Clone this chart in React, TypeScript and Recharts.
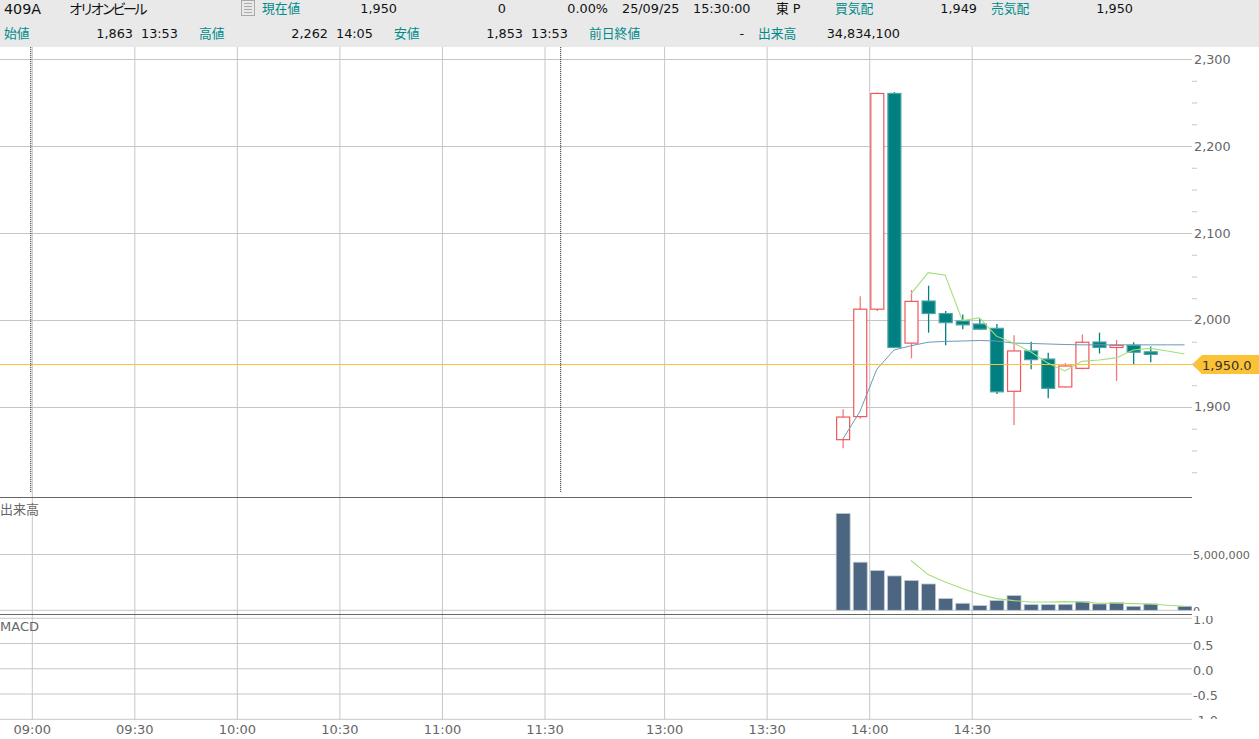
import React from 'react';
import { ComposedChart, Bar, Line, XAxis, YAxis, CartesianGrid, ReferenceLine } from 'recharts';

// ---- header values
const code = '409A';
const companyName = 'オリオンビール';
const currentValue = '1,950';
const change = '0';
const changePct = '0.00%';
const quoteDate = '25/09/25';
const quoteTime = '15:30:00';
const market = '東 P';
const bid = '1,949';
const ask = '1,950';
const openValue = '1,863';
const openTime = '13:53';
const highValue = '2,262';
const highTime = '14:05';
const lowValue = '1,853';
const lowTime = '13:53';
const prevClose = '-';
const totalVolume = '34,834,100';

// ---- time axis (one slot = 5 minutes of trading)
const timeTicks = [0, 6, 12, 18, 24, 30, 37, 43, 49, 55];
const timeLabels = ['09:00', '09:30', '10:00', '10:30', '11:00', '11:30', '13:00', '13:30', '14:00', '14:30'];
const sessionMarks = [-0.09, 30.92];

// ---- series
const slots = [47.42, 48.42, 49.42, 50.42, 51.42, 52.42, 53.42, 54.42, 55.42, 56.42, 57.42, 58.42, 59.42, 60.42, 61.42, 62.42, 63.42, 64.42, 65.42, 66.42, 67.42];
const opens = [1863, 1889.5, 2013, 2261, 1974, 2022.4, 2008, 1999.4, 1996, 1991, 1918.6, 1965, 1955.7, 1923.6, 1945, 1975.3, 1969, 1971.5, 1964, null, null];
const closes = [1889, 2013, 2261, 1969, 2022, 2008, 1997.5, 1995, 1990, 1918, 1965, 1955, 1922, 1947.7, 1975, 1969, 1971.5, 1963.5, 1961, null, null];
const highs = [1898, 2028, 2262, 2262.6, 2035, 2040, 2011, 2007, 2002, 1996, 1983, 1975.6, 1963, 1951, 1984, 1986, 1977.6, 1975, 1970, null, null];
const lows = [1853, 1887, 2011, 1969, 1956.5, 1986, 1971.5, 1990, 1989, 1915.5, 1880, 1944, 1910.5, 1923, 1944, 1962, 1930.5, 1950, 1952, null, null];
const vwapLine = [1863.4, 1895, 1944, 1966, 1971, 1975, 1976, 1976.4, 1977, 1976.4, 1974, 1973.6, 1973, 1972.4, 1972, 1972, 1972, 1972, 1972, 1972, 1972];
const priceMa = [null, null, null, null, 2031, 2055, 2052, 2000, 2003, 1982, 1974, 1964, 1951, 1942, 1953, 1954.6, 1957, 1966, 1968, 1965, 1961.5];
const volumes = [8680000, 4310000, 3560000, 3080000, 2670000, 2360000, 1050000, 630000, 420000, 870000, 1320000, 510000, 510000, 540000, 780000, 570000, 690000, 360000, 570000, 0, 360000];
const volumeMa = [null, null, null, null, 4460000, 3200000, 2540000, 1950000, 1440000, 1050000, 870000, 750000, 750000, 780000, 750000, 630000, 630000, 600000, 570000, 450000, 360000];
const lastPrice = 1950;
const lastPriceLevel = 1949.4;

const priceTicks = [2300, 2275, 2250, 2225, 2200, 2175, 2150, 2125, 2100, 2075, 2050, 2025, 2000, 1975, 1950, 1925, 1900, 1875, 1850, 1825];
const priceMajor = [2300, 2200, 2100, 2000, 1900];
const volumeTicks = [5000000, 0];
const macdTicks = [1, 0.5, 0, -0.5, -1];

const priceRows = slots.map((slot, i) => ({
  slot,
  open: opens[i],
  close: closes[i],
  high: highs[i],
  low: lows[i],
  range: highs[i] == null ? null : [lows[i], highs[i]],
  vwap: vwapLine[i],
  ma: priceMa[i],
}));
const volumeRows = slots.map((slot, i) => ({ slot, volume: volumes[i], ma: volumeMa[i] }));
const macdRows = slots.map((slot) => ({ slot, macd: null }));

// ---- styling
const UI_FONT = '"DejaVu Sans", "Noto Sans CJK JP", sans-serif';
const GRID = '#c6c6c6';
const LABEL = '#666666';
const TEAL = '#008b8b';
const UP = '#f0565a';
const DOWN = '#008080';
const GREEN = '#a3e07a';
const X_DOMAIN = [-1.89, 67.86];

const Candle = (props: any) => {
  const { x, y, width, height, payload } = props;
  if (payload.high == null) return null;
  const px = height / Math.max(payload.high - payload.low, 0.001);
  const top = y + (payload.high - Math.max(payload.open, payload.close)) * px;
  const bottom = y + (payload.high - Math.min(payload.open, payload.close)) * px;
  const up = payload.close >= payload.open;
  const cx = x + width / 2;
  return (
    <g>
      <line x1={cx} x2={cx} y1={y} y2={y + height} stroke={up ? '#f4797c' : DOWN} strokeWidth={1.3} />
      <rect
        x={x + 0.5}
        y={top}
        width={width - 1}
        height={Math.max(bottom - top, 1.5)}
        fill={up ? '#ffffff' : DOWN}
        stroke={up ? UP : '#4ea3a3'}
        strokeWidth={1.2}
      />
    </g>
  );
};

const VolumeBar = (props: any) => {
  const { x, y, width, height } = props;
  if (!height) return null;
  return <rect x={x} y={y} width={width} height={height} fill="#4c6580" stroke="#c3cbd3" strokeWidth={0.8} />;
};

const axisText = (x: number, y: number, label: string, size: number, clip?: string) => (
  <text x={x + 2} y={y + 5} fontSize={size} fontFamily={UI_FONT} fill={LABEL} clipPath={clip}>
    {label}
  </text>
);

const PriceTick = (props: any) => {
  const { x, y, payload } = props;
  const major = priceMajor.includes(payload.value);
  return (
    <g>
      {major ? null : <line x1={x} x2={x + 5} y1={y} y2={y} stroke={GRID} />}
      {major ? axisText(x, y - 1, payload.value.toLocaleString('en-US'), 12.8) : null}
    </g>
  );
};

const VolumeTick = (props: any) => axisText(props.x - 1, props.y, props.payload.value.toLocaleString('en-US'), 11.2, 'url(#volClip)');
const MacdTick = (props: any) => axisText(props.x - 1, props.y + 1, props.payload.value.toFixed(1), 12.8, 'url(#macdClip)');

const TimeTick = (props: any) => {
  const { x, y, payload } = props;
  const label = timeLabels[timeTicks.indexOf(payload.value)];
  return (
    <text x={x} y={y + 14} textAnchor="middle" fontSize={13} fontFamily={UI_FONT} fill={LABEL}>
      {label}
    </text>
  );
};

const PriceFlag = (props: any) => {
  const { viewBox } = props;
  const tip = viewBox.x + viewBox.width;
  const y = viewBox.y;
  return (
    <g>
      <polygon
        points={`${tip},${y} ${tip + 10},${y - 9.5} ${tip + 67},${y - 9.5} ${tip + 67},${y + 9.5} ${tip + 10},${y + 9.5}`}
        fill="#fcc235"
      />
      <text x={tip + 10} y={y + 5} fontSize={13} fontFamily={UI_FONT} fill="#333333">
        {lastPrice.toLocaleString('en-US', { minimumFractionDigits: 1 })}
      </text>
    </g>
  );
};

const HText = ({ x, y, right, color, size, spacing, children }: any) => (
  <div
    style={{
      position: 'absolute',
      top: y,
      ...(right != null ? { right: 1259 - right } : { left: x }),
      color: color || '#111111',
      fontSize: size || 12.8,
      lineHeight: '18px',
      whiteSpace: 'nowrap',
      letterSpacing: spacing,
      fontFamily: UI_FONT,
    }}
  >
    {children}
  </div>
);

const Rule = ({ y }: { y: number }) => (
  <div style={{ position: 'absolute', left: 0, top: y, width: 1192, height: 1, background: '#666666' }} />
);

const Pane = ({ top, height, children }: any) => (
  <div style={{ position: 'absolute', left: 0, top, width: 1259, height }}>{children}</div>
);

export default function App() {
  const t1 = 0;
  const t2 = 25;
  return (
    <div style={{ position: 'absolute', left: 0, top: 0, width: 1259, height: 739, background: '#fff', overflow: 'hidden' }}>
      <Pane top={47} height={450}>
        <ComposedChart width={1259} height={450} data={priceRows} margin={{ top: 0, right: 0, bottom: 0, left: 0 }}>
          <CartesianGrid stroke={GRID} horizontalValues={priceMajor} verticalValues={timeTicks} />
          <XAxis hide type="number" dataKey="slot" domain={X_DOMAIN} ticks={timeTicks} allowDataOverflow />
          <YAxis
            orientation="right"
            width={67}
            domain={[1797.1, 2314.4]}
            ticks={priceTicks}
            interval={0}
            axisLine={false}
            tickLine={false}
            tickSize={0}
            tickMargin={0}
            tick={PriceTick}
            allowDataOverflow
          />
          <Bar dataKey="range" barSize={14} shape={Candle} isAnimationActive={false} />
          <Line dataKey="vwap" stroke="#6d99b5" strokeWidth={1} dot={false} isAnimationActive={false} />
          <Line dataKey="ma" stroke={GREEN} strokeWidth={1.1} dot={false} isAnimationActive={false} />
          <ReferenceLine y={lastPriceLevel} stroke="#fcc235" strokeWidth={1} label={PriceFlag} />
          {sessionMarks.map((m) => (
            <ReferenceLine
              key={m}
              segment={[{ x: m, y: 1803 }, { x: m, y: 2314.4 }]}
              stroke="#111111"
              strokeDasharray="1 1"
            />
          ))}
        </ComposedChart>
      </Pane>

      <Pane top={497} height={119}>
        <ComposedChart width={1259} height={119} data={volumeRows} margin={{ top: 0, right: 0, bottom: 0, left: 0 }}>
          <defs>
            <clipPath id="volClip">
              <rect x={1192} y={0} width={67} height={114} />
            </clipPath>
          </defs>
          <CartesianGrid stroke={GRID} horizontalValues={volumeTicks} verticalValues={timeTicks} />
          <XAxis hide type="number" dataKey="slot" domain={X_DOMAIN} ticks={timeTicks} allowDataOverflow />
          <YAxis
            orientation="right"
            width={67}
            domain={[-510000, 10150000]}
            ticks={volumeTicks}
            interval={0}
            axisLine={false}
            tickLine={false}
            tickSize={0}
            tickMargin={0}
            tick={VolumeTick}
            allowDataOverflow
          />
          <Bar dataKey="volume" barSize={14} shape={VolumeBar} isAnimationActive={false} />
          <Line dataKey="ma" stroke={GREEN} strokeWidth={1.1} dot={false} isAnimationActive={false} />
        </ComposedChart>
      </Pane>

      <Pane top={616} height={123}>
        <ComposedChart width={1259} height={123} data={macdRows} margin={{ top: 0, right: 0, bottom: 0, left: 0 }}>
          <defs>
            <clipPath id="macdClip">
              <rect x={1192} y={0} width={67} height={103} />
            </clipPath>
          </defs>
          <CartesianGrid stroke={GRID} horizontalValues={macdTicks} verticalValues={timeTicks} />
          <XAxis
            type="number"
            dataKey="slot"
            domain={X_DOMAIN}
            ticks={timeTicks}
            interval={0}
            height={19}
            axisLine={false}
            tickLine={false}
            tickSize={0}
            tickMargin={0}
            tick={TimeTick}
            allowDataOverflow
          />
          <YAxis
            orientation="right"
            width={67}
            domain={[-1.014, 1.045]}
            ticks={macdTicks}
            interval={0}
            axisLine={false}
            tickLine={false}
            tickSize={0}
            tickMargin={0}
            tick={MacdTick}
            allowDataOverflow
          />
          <Line dataKey="macd" stroke="#6d99b5" dot={false} isAnimationActive={false} />
        </ComposedChart>
      </Pane>

      <Rule y={497} />
      <Rule y={614} />

      <div style={{ position: 'absolute', left: 0, top: 502, fontSize: 13, lineHeight: '16px', color: LABEL, fontFamily: UI_FONT }}>出来高</div>
      <div style={{ position: 'absolute', left: 0, top: 619, fontSize: 13, lineHeight: '16px', color: LABEL, fontFamily: UI_FONT }}>MACD</div>

      <div style={{ position: 'absolute', left: 0, top: 0, width: 1259, height: 47, background: '#e9e9e9' }}>
        <HText x={4} y={t1} size={14.3}>{code}</HText>
        <HText x={69} y={t1} size={14} spacing="-3.2px">{companyName}</HText>
        <svg style={{ position: 'absolute', left: 241, top: 0 }} width={15} height={17}>
          <rect x={0.5} y={0.5} width={13} height={15} fill="none" stroke="#a8a8a8" />
          {[3.5, 6.5, 9.5, 12.5].map((ly) => (
            <line key={ly} x1={3} x2={11} y1={ly} y2={ly} stroke="#a8a8a8" />
          ))}
        </svg>
        <HText x={262} y={t1} color={TEAL}>現在値</HText>
        <HText right={397} y={t1}>{currentValue}</HText>
        <HText right={506} y={t1}>{change}</HText>
        <HText right={608} y={t1}>{changePct}</HText>
        <HText x={622} y={t1}>{quoteDate}</HText>
        <HText x={693} y={t1}>{quoteTime}</HText>
        <HText x={776} y={t1}>{market}</HText>
        <HText x={835} y={t1} color={TEAL}>買気配</HText>
        <HText right={977} y={t1}>{bid}</HText>
        <HText x={991} y={t1} color={TEAL}>売気配</HText>
        <HText right={1133} y={t1}>{ask}</HText>

        <HText x={4} y={t2} color={TEAL}>始値</HText>
        <HText right={133} y={t2}>{openValue}</HText>
        <HText x={141} y={t2}>{openTime}</HText>
        <HText x={199} y={t2} color={TEAL}>高値</HText>
        <HText right={328} y={t2}>{highValue}</HText>
        <HText x={336} y={t2}>{highTime}</HText>
        <HText x={394} y={t2} color={TEAL}>安値</HText>
        <HText right={523} y={t2}>{lowValue}</HText>
        <HText x={531} y={t2}>{lowTime}</HText>
        <HText x={589} y={t2} color={TEAL}>前日終値</HText>
        <HText right={744} y={t2}>{prevClose}</HText>
        <HText x={758} y={t2} color={TEAL}>出来高</HText>
        <HText right={900} y={t2}>{totalVolume}</HText>
      </div>
    </div>
  );
}
